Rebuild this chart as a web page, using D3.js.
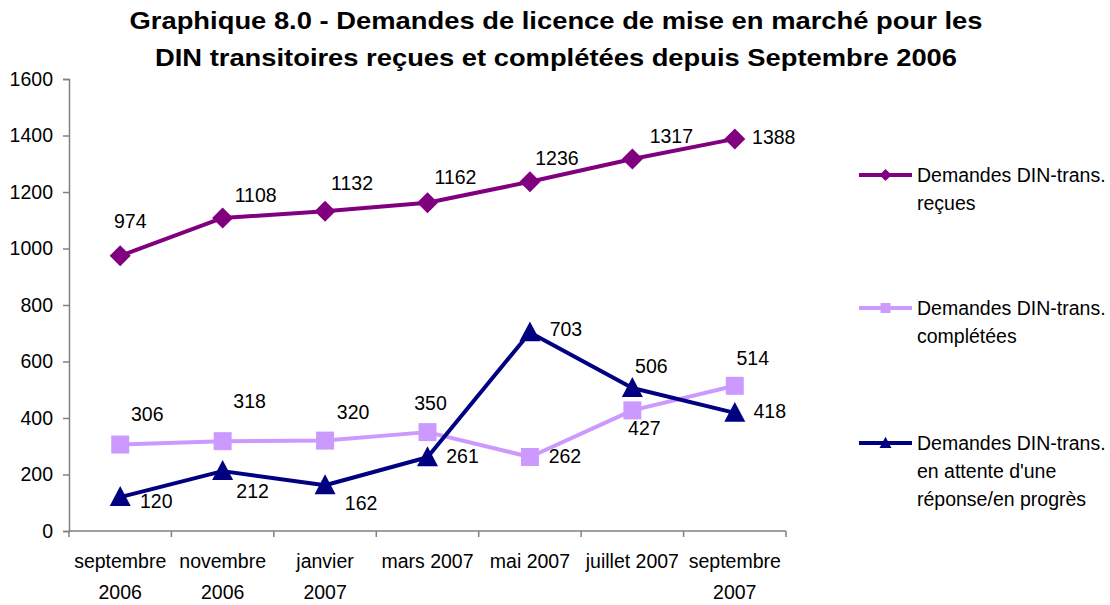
<!DOCTYPE html>
<html>
<head>
<meta charset="utf-8">
<script src="https://cdn.jsdelivr.net/npm/d3@7"></script>
<style>
  body { margin: 0; background: #fff; }
  svg text { font-family: "Liberation Sans", Arial, sans-serif; fill: #000; }
</style>
</head>
<body>
<svg id="chart" width="1110" height="605"></svg>
<script>
// data
var months = [
  ["septembre", "2006"], ["novembre", "2006"], ["janvier", "2007"],
  ["mars 2007"], ["mai 2007"], ["juillet 2007"], ["septembre", "2007"]
];
var recues = [974, 1108, 1132, 1162, 1236, 1317, 1388];
var completees = [306, 318, 320, 350, 262, 427, 514];
var enAttente = [120, 212, 162, 261, 703, 506, 418];
var yTicks = [0, 200, 400, 600, 800, 1000, 1200, 1400, 1600];
var seriesNames = [
  ["Demandes DIN-trans.", "reçues"],
  ["Demandes DIN-trans.", "complétées"],
  ["Demandes DIN-trans.", "en attente d'une", "réponse/en progrès"]
];
var titleLines = [
  "Graphique 8.0 - Demandes de licence de mise en marché pour les",
  "DIN transitoires reçues et complétées depuis Septembre 2006"
];

// label offsets (pixels from the point, hand placed like the original)
var offRecues = [[10, -28], [33, -16], [27, -21], [28, -19], [27, -17], [39, -16], [39, 5]];
var offCompl = [[27, -24], [27, -33], [28, -22], [3, -22], [35, 6], [12, 25], [18, -21]];
var offAttente = [[36, 11], [30, 27], [36, 25], [35, 6], [36, 4], [19, -15], [35, 5]];

var svg = d3.select("#chart");
var pLeft = 69, pRight = 786, pTop = 79, pBottom = 531;
var fs = 19.5;

var x = d3.scaleBand().domain(d3.range(months.length)).range([pLeft, pRight]);
var y = d3.scaleLinear().domain([0, 1600]).range([pBottom, pTop]);

// title
var titleW = [853, 802];
svg.selectAll("text.title").data(titleLines).enter().append("text")
  .attr("class", "title")
  .attr("x", 556).attr("y", function(d, i){ return 29 + i * 37; })
  .attr("text-anchor", "middle")
  .attr("textLength", function(d, i){ return titleW[i]; })
  .attr("lengthAdjust", "spacingAndGlyphs")
  .style("font-weight", "bold").style("font-size", "24px")
  .text(function(d){ return d; });

// y axis
var yAxis = svg.append("g")
  .attr("transform", "translate(" + pLeft + ",0)")
  .call(d3.axisLeft(y).tickValues(yTicks).tickSize(6).tickPadding(10).tickFormat(d3.format("d")));
yAxis.attr("font-size", fs).attr("font-family", null);
yAxis.select(".domain").attr("stroke", "#808080").attr("stroke-width", 1.5);
yAxis.selectAll(".tick line").attr("stroke", "#808080").attr("stroke-width", 1.5);
yAxis.selectAll(".tick text").attr("font-size", fs).attr("fill", "#000");

// x axis (ticks at category boundaries)
var xg = svg.append("g").attr("transform", "translate(0," + pBottom + ")");
xg.append("line").attr("x1", pLeft).attr("x2", pRight)
  .attr("stroke", "#808080").attr("stroke-width", 1.5);
xg.selectAll("line.tk").data(d3.range(months.length + 1)).enter().append("line")
  .attr("class", "tk")
  .attr("x1", function(i){ return pLeft + i * x.step(); })
  .attr("x2", function(i){ return pLeft + i * x.step(); })
  .attr("y1", 0).attr("y2", 6)
  .attr("stroke", "#808080").attr("stroke-width", 1.5);
var xl = xg.selectAll("text.xl").data(months).enter().append("text")
  .attr("class", "xl")
  .attr("text-anchor", "middle")
  .attr("font-size", fs)
  .attr("y", 37);
xl.selectAll("tspan").data(function(d, i){ return d.map(function(s){ return {s: s, i: i}; }); })
  .enter().append("tspan")
  .attr("x", function(d){ return x(d.i) + x.bandwidth() / 2; })
  .attr("dy", function(d, j){ return j ? 31 : 0; })
  .text(function(d){ return d.s; });

function cx(i){ return x(i) + x.bandwidth() / 2; }

var series = [
  {vals: recues, color: "#800080", shape: "diamond", offs: offRecues},
  {vals: completees, color: "#CC99FF", shape: "square", offs: offCompl},
  {vals: enAttente, color: "#000080", shape: "triangle", offs: offAttente}
];

function markerPath(shape, r){
  if (shape == "diamond") return "M0," + (-r) + "L" + r + ",0L0," + r + "L" + (-r) + ",0Z";
  if (shape == "square") return "M" + (-r) + "," + (-r) + "H" + r + "V" + r + "H" + (-r) + "Z";
  return "M0," + (-r * 1.05) + "L" + r + "," + (r * 0.85) + "L" + (-r) + "," + (r * 0.85) + "Z";
}

var line = d3.line().x(function(d, i){ return cx(i); }).y(function(d){ return y(d); });

series.forEach(function(s){
  svg.append("path").attr("d", line(s.vals))
    .attr("fill", "none").attr("stroke", s.color).attr("stroke-width", 4)
    .attr("stroke-linejoin", "round");
});
series.forEach(function(s){
  var r = s.shape == "square" ? 9 : 10.5;
  svg.selectAll(null).data(s.vals).enter().append("path")
    .attr("transform", function(d, i){ return "translate(" + cx(i) + "," + y(d) + ")"; })
    .attr("d", markerPath(s.shape, r))
    .attr("fill", s.color);
});
series.forEach(function(s){
  svg.selectAll(null).data(s.vals).enter().append("text")
    .attr("x", function(d, i){ return cx(i) + s.offs[i][0]; })
    .attr("y", function(d, i){ return y(d) + s.offs[i][1]; })
    .attr("text-anchor", "middle")
    .attr("font-size", fs)
    .text(function(d){ return d; });
});

// legend
var legY = [175, 308, 443];
series.forEach(function(s, k){
  var g = svg.append("g").attr("transform", "translate(859," + legY[k] + ")");
  g.append("line").attr("x1", 0).attr("x2", 53)
    .attr("stroke", s.color).attr("stroke-width", 4);
  g.append("path").attr("transform", "translate(26.5,0)")
    .attr("d", markerPath(s.shape, s.shape == "square" ? 5 : 6))
    .attr("fill", s.color);
  g.append("text").attr("x", 58).attr("y", 7)
    .attr("font-size", fs)
    .selectAll("tspan").data(seriesNames[k]).enter().append("tspan")
    .attr("x", 58).attr("dy", function(d, i){ return i ? 28 : 0; })
    .text(function(d){ return d; });
});
</script>
</body>
</html>
